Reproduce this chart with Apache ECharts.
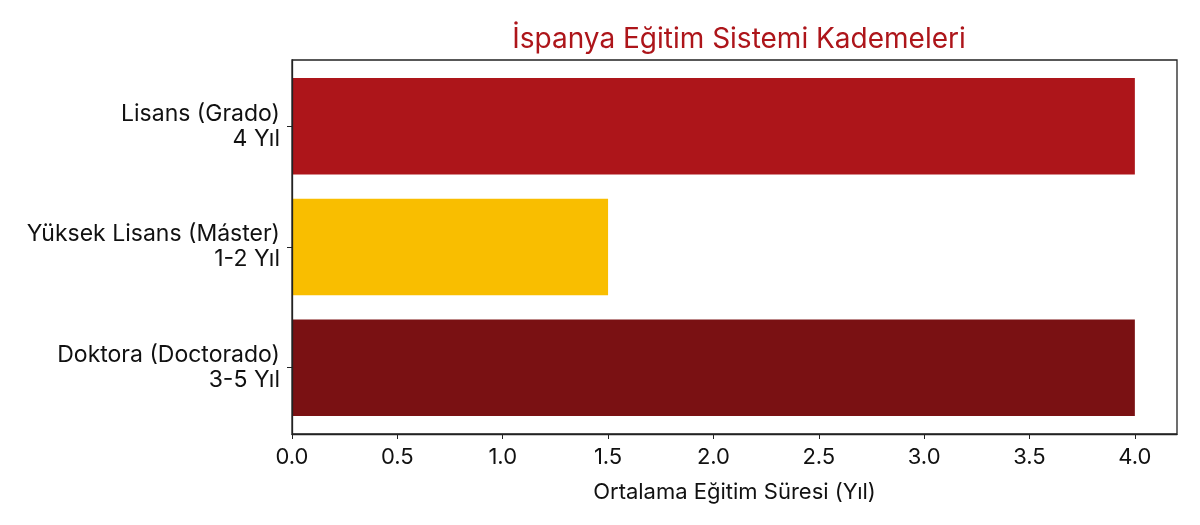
<!DOCTYPE html>
<html>
<head>
<meta charset="utf-8">
<script src="https://cdn.jsdelivr.net/npm/echarts@6/dist/echarts.min.js"></script>
<style>
  body { margin: 0; background: #fff; }
  #chart { width: 1200px; height: 525px; }
</style>
</head>
<body>
<div id="chart"></div>
<script>
// kategoriler (yukarıdan aşağıya)
const categories = ['Lisans (Grado)\n4 Yıl', 'Yüksek Lisans (Máster)\n1-2 Yıl', 'Doktora (Doctorado)\n3-5 Yıl'];
const durations = [4, 1.5, 4];
const barColors = ['#AD151A', '#F9BE00', '#7A1113'];
const xTicks = [0, 0.5, 1, 1.5, 2, 2.5, 3, 3.5, 4];

const font = 'Inter, sans-serif';
const chart = echarts.init(document.getElementById('chart'), null, { renderer: 'canvas' });

// grid 0: çerçeve + eksenler, grid 1: çubuklar (matplotlib kenar boşluğu için biraz içeride)
chart.setOption({
  animation: false,
  title: {
    text: 'İspanya Eğitim Sistemi Kademeleri',
    left: 734,
    textAlign: 'center',
    top: 21,
    textStyle: { color: '#AD151A', fontSize: 28, fontWeight: 'normal', fontFamily: font }
  },
  grid: [
    { left: 292, right: 23, top: 60, bottom: 91, show: true, borderColor: '#222', borderWidth: 1.3 },
    { left: 292, right: 23, top: 66, height: 362 }
  ],
  xAxis: [{
    type: 'value',
    gridIndex: 0,
    min: 0,
    max: 4.2,
    z: 5,
    name: 'Ortalama Eğitim Süresi (Yıl)',
    nameLocation: 'middle',
    nameGap: 47,
    nameTextStyle: { color: '#111', fontSize: 22, fontFamily: font },
    axisLine: { show: true, onZero: false, lineStyle: { color: '#222', width: 1.3 } },
    axisTick: { show: true, length: 5, customValues: xTicks, lineStyle: { color: '#222' } },
    axisLabel: {
      customValues: xTicks,
      formatter: v => v.toFixed(1),
      color: '#111', fontSize: 22, fontFamily: font, margin: 12
    },
    splitLine: { show: false }
  }, {
    type: 'value',
    gridIndex: 1,
    min: 0,
    max: 4.2,
    show: false
  }],
  yAxis: [{
    type: 'value',
    gridIndex: 0,
    min: -0.55,
    max: 2.55,
    inverse: true,
    z: 5,
    axisLine: { show: true, onZero: false, lineStyle: { color: '#222', width: 1.3 } },
    axisTick: { show: true, length: 5, customValues: [0, 1, 2], lineStyle: { color: '#222' } },
    axisLabel: {
      customValues: [0, 1, 2],
      formatter: v => categories[Math.round(v)],
      color: '#111', fontSize: 23, fontFamily: font, lineHeight: 25, align: 'right', margin: 12
    },
    splitLine: { show: false }
  }, {
    type: 'category',
    gridIndex: 1,
    data: categories,
    inverse: true,
    show: false
  }],
  series: [{
    type: 'bar',
    xAxisIndex: 1,
    yAxisIndex: 1,
    barWidth: '80%',
    data: durations.map((d, i) => ({ value: d, itemStyle: { color: barColors[i] } }))
  }]
});
</script>
</body>
</html>
